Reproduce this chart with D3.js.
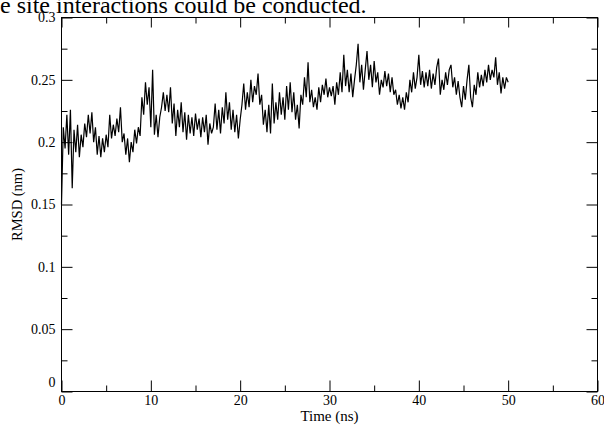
<!DOCTYPE html>
<html>
<head>
<meta charset="utf-8">
<script src="https://cdn.jsdelivr.net/npm/d3@7"></script>
<style>
  body { margin: 0; background: #fff; }
  svg { display: block; font-family: "Liberation Serif", "Times New Roman", serif; }
</style>
</head>
<body>
<script>
// RMSD of the complex over 50 ns (one every 0.2 ns)
const timeStep = 0.2;
const rmsd = [
  0.150, 0.212, 0.195, 0.222, 0.190, 0.226, 0.163, 0.210, 0.192, 0.214,
  0.188, 0.206, 0.196, 0.215, 0.204, 0.222, 0.207, 0.224, 0.200, 0.212,
  0.190, 0.205, 0.188, 0.203, 0.192, 0.206, 0.196, 0.222, 0.203, 0.214,
  0.205, 0.219, 0.208, 0.228, 0.200, 0.207, 0.190, 0.203, 0.184, 0.200,
  0.192, 0.210, 0.199, 0.212, 0.205, 0.236, 0.222, 0.248, 0.230, 0.244,
  0.212, 0.258, 0.206, 0.222, 0.204, 0.220, 0.228, 0.240, 0.225, 0.238,
  0.224, 0.244, 0.215, 0.231, 0.205, 0.226, 0.212, 0.232, 0.208, 0.224,
  0.202, 0.222, 0.207, 0.220, 0.205, 0.223, 0.210, 0.219, 0.204, 0.220,
  0.208, 0.222, 0.198, 0.215, 0.207, 0.212, 0.231, 0.210, 0.226, 0.207,
  0.228, 0.215, 0.240, 0.218, 0.232, 0.210, 0.226, 0.208, 0.222, 0.203,
  0.218, 0.230, 0.247, 0.226, 0.240, 0.228, 0.250, 0.232, 0.245, 0.238,
  0.255, 0.230, 0.238, 0.214, 0.226, 0.208, 0.230, 0.207, 0.247, 0.215,
  0.232, 0.218, 0.240, 0.222, 0.236, 0.218, 0.245, 0.226, 0.248, 0.224,
  0.240, 0.218, 0.230, 0.211, 0.238, 0.230, 0.252, 0.236, 0.264, 0.232,
  0.242, 0.228, 0.236, 0.226, 0.244, 0.232, 0.246, 0.238, 0.251, 0.236,
  0.244, 0.237, 0.245, 0.230, 0.248, 0.238, 0.256, 0.240, 0.270, 0.245,
  0.258, 0.240, 0.255, 0.236, 0.250, 0.262, 0.279, 0.248, 0.262, 0.242,
  0.258, 0.273, 0.250, 0.262, 0.244, 0.265, 0.248, 0.256, 0.238, 0.250,
  0.244, 0.257, 0.245, 0.255, 0.240, 0.252, 0.238, 0.242, 0.230, 0.238,
  0.227, 0.236, 0.226, 0.240, 0.232, 0.250, 0.240, 0.256, 0.243, 0.252,
  0.270, 0.246, 0.257, 0.244, 0.256, 0.245, 0.258, 0.243, 0.255, 0.246,
  0.260, 0.267, 0.238, 0.250, 0.242, 0.256, 0.246, 0.258, 0.262, 0.244,
  0.252, 0.238, 0.249, 0.236, 0.228, 0.245, 0.234, 0.250, 0.262, 0.236,
  0.228, 0.246, 0.238, 0.256, 0.244, 0.254, 0.245, 0.258, 0.248, 0.262,
  0.250, 0.258, 0.252, 0.268, 0.246, 0.256, 0.239, 0.252, 0.243, 0.252,
  0.248
];
const xTicks = [0, 10, 20, 30, 40, 50, 60];
const xMinorTicks = [5, 15, 25, 35, 45, 55];
const yTicks = [0, 0.05, 0.1, 0.15, 0.2, 0.25, 0.3];
const yMinorTicks = [0.025, 0.075, 0.125, 0.175, 0.225, 0.275];
const captionText = "e site interactions could be conducted.";

const width = 604, height = 425;
const plotL = 61.5, plotR = 597.5, plotT = 17.5, plotB = 391.5;
const serif = '"Liberation Serif", "Times New Roman", serif';

const svg = d3.select("body").append("svg")
  .attr("width", width)
  .attr("height", height);

// leftover line of the surrounding document, cut by the top edge
svg.append("text")
  .attr("x", 0)
  .attr("y", 13)
  .style("font-family", serif)
  .style("font-size", "24px")
  .text(captionText);

const x = d3.scaleLinear().domain([0, 60]).range([plotL, plotR]);
const y = d3.scaleLinear().domain([0, 0.3]).range([plotB, plotT]);

const fmt = d => d === 0 ? "0" : String(+d.toFixed(2));

function styleAxis(g) {
  g.attr("font-family", null).attr("font-size", null);
  g.select(".domain").remove();
  g.selectAll(".tick line").attr("stroke", "#000");
  g.selectAll(".tick text").attr("fill", "#000")
    .style("font-family", serif)
    .style("font-size", "14px");
}

// bottom: labelled major ticks plus minor ticks, all pointing inward
svg.append("g").attr("transform", `translate(0,${plotB})`)
  .call(d3.axisBottom(x).tickValues(xTicks).tickFormat(fmt).tickSize(-11).tickPadding(4))
  .call(styleAxis);
svg.append("g").attr("transform", `translate(0,${plotB})`)
  .call(d3.axisBottom(x).tickValues(xMinorTicks).tickFormat("").tickSize(-6))
  .call(styleAxis);

// top mirror
svg.append("g").attr("transform", `translate(0,${plotT})`)
  .call(d3.axisTop(x).tickValues(xTicks).tickFormat("").tickSize(-10))
  .call(styleAxis);
svg.append("g").attr("transform", `translate(0,${plotT})`)
  .call(d3.axisTop(x).tickValues(xMinorTicks).tickFormat("").tickSize(-6))
  .call(styleAxis);

// left
const yAxisG = svg.append("g").attr("transform", `translate(${plotL},0)`)
  .call(d3.axisLeft(y).tickValues(yTicks).tickFormat(fmt).tickSize(-11).tickPadding(6))
  .call(styleAxis);
yAxisG.selectAll(".tick text").filter(d => d === 0).attr("dy", "-0.35em");
svg.append("g").attr("transform", `translate(${plotL},0)`)
  .call(d3.axisLeft(y).tickValues(yMinorTicks).tickFormat("").tickSize(-6))
  .call(styleAxis);

// right mirror
svg.append("g").attr("transform", `translate(${plotR},0)`)
  .call(d3.axisRight(y).tickValues(yTicks).tickFormat("").tickSize(-11))
  .call(styleAxis);
svg.append("g").attr("transform", `translate(${plotR},0)`)
  .call(d3.axisRight(y).tickValues(yMinorTicks).tickFormat("").tickSize(-6))
  .call(styleAxis);

// frame
svg.append("rect")
  .attr("x", plotL).attr("y", plotT)
  .attr("width", plotR - plotL).attr("height", plotB - plotT)
  .attr("fill", "none").attr("stroke", "#000");

// RMSD trace
const line = d3.line()
  .x((d, i) => x(i * timeStep))
  .y(d => y(d));

svg.append("path")
  .datum(rmsd)
  .attr("fill", "none")
  .attr("stroke", "#000")
  .attr("stroke-width", 1.2)
  .attr("d", line);

// axis titles
svg.append("text")
  .attr("x", (plotL + plotR) / 2)
  .attr("y", 421)
  .attr("text-anchor", "middle")
  .style("font-family", serif)
  .style("font-size", "15px")
  .text("Time (ns)");

svg.append("text")
  .attr("transform", `translate(22,${(plotT + plotB) / 2}) rotate(-90)`)
  .attr("text-anchor", "middle")
  .style("font-family", serif)
  .style("font-size", "14.5px")
  .text("RMSD (nm)");
</script>
</body>
</html>
